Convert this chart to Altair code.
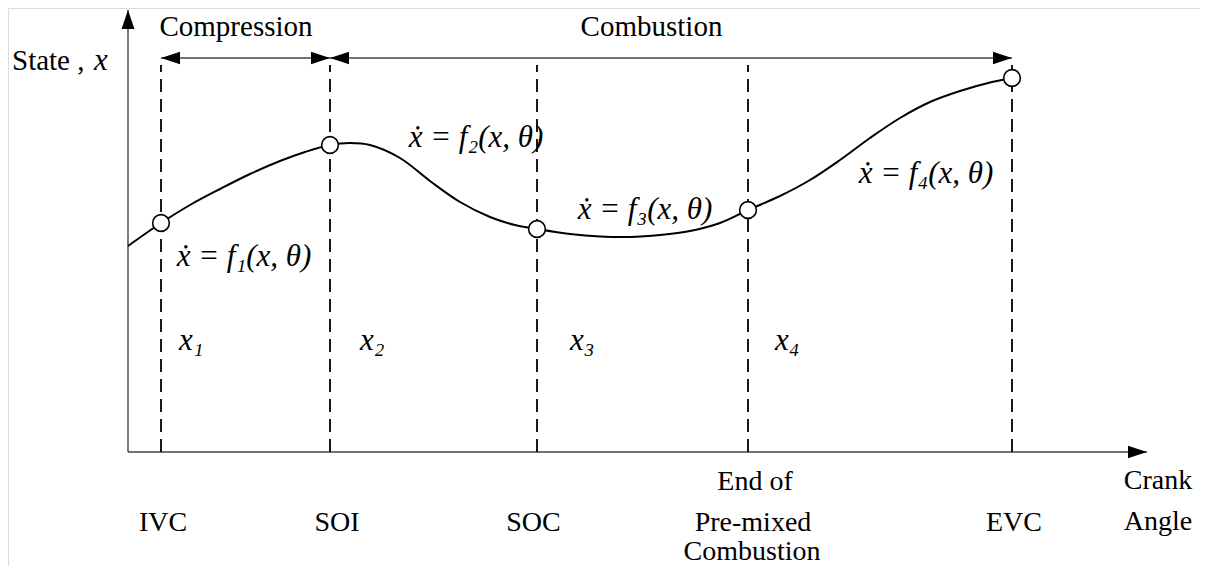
import altair as alt
import pandas as pd

# ---- data (crank-angle units, state units) ----
event_names = ["IVC", "SOI", "SOC", "EOPC", "EVC"]
event_angle = [3.3, 20.2, 40.9, 62.0, 88.4]
event_state = [22.9, 30.7, 22.3, 24.2, 37.4]

curve_angle = [0.0, 3.3, 6.2, 9.2, 12.2, 15.2, 17.7, 20.2, 22.2, 24.2, 27.2, 30.2, 33.2,
               36.2, 38.7, 40.9, 44.2, 47.2, 50.2, 53.2, 56.2, 59.2, 62.0, 65.2, 68.2,
               71.2, 74.2, 77.2, 80.2, 83.2, 86.2, 88.4]
curve_state = [20.6, 22.9, 24.7, 26.3, 27.8, 29.1, 30.0, 30.7, 30.9, 30.7, 29.4, 27.1, 25.0,
               23.5, 22.7, 22.3, 21.8, 21.55, 21.5, 21.7, 22.1, 22.9, 24.2, 25.6, 27.2,
               29.2, 31.4, 33.4, 35.0, 36.1, 36.95, 37.4]

axis_x_end = 101.9
axis_y_end = 44.2
dash_top = 38.7
phase_level = 39.4

phase_names = ["Compression", "Combustion"]
phase_start = [3.3, 20.2]
phase_end = [20.2, 88.4]
phase_label_x = [10.8, 52.35]
phase_label_y = [41.6, 41.6]

bottom_text = ["IVC", "SOI", "SOC", "End of", "Pre-mixed", "Combustion", "EVC", "Crank", "Angle"]
bottom_x = [3.5, 20.9, 40.55, 62.7, 62.5, 62.4, 88.6, 103.0, 103.0]
bottom_y = [-7.9, -7.9, -7.9, -3.8, -7.9, -10.8, -7.9, -3.7, -7.8]

eq_text = ["ẋ = f₁(x, θ)", "ẋ = f₂(x, θ)", "ẋ = f₃(x, θ)", "ẋ = f₄(x, θ)"]
eq_x = [11.6, 34.8, 51.7, 79.8]
eq_y = [18.6, 30.5, 23.3, 26.9]

state_text = ["x₁", "x₂", "x₃", "x₄"]
state_x = [5.1, 23.2, 44.2, 64.7]
state_y = [10.2, 10.2, 10.2, 10.2]

ylabel_text = ["State ,"]
ylabel_x = [-11.6]
ylabel_y = [38.2]
ylabel_var = ["x"]
ylabel_var_x = [-3.4]

# ---- scales ----
XS = alt.Scale(domain=[-12, 107.2], nice=False, zero=False)
YS = alt.Scale(domain=[-11.4, 44.4], nice=False, zero=False)
FONT = "Liberation Serif"
FS = 28
FS_MATH = 31


def X(field="x"):
    return alt.X(f"{field}:Q", scale=XS, axis=None)


def Y(field="y"):
    return alt.Y(f"{field}:Q", scale=YS, axis=None)


# ---- axes lines ----
axes_df = pd.DataFrame({"x": [0, 0], "x2": [axis_x_end, 0], "y": [0, 0], "y2": [0, axis_y_end]})
axes = alt.Chart(axes_df).mark_rule(color="#444", strokeWidth=1.4).encode(
    x=X(), x2="x2:Q", y=Y(), y2="y2:Q")

RIGHT = "M0,0L-2,-0.65L-2,0.65Z"
LEFT = "M0,0L2,-0.65L2,0.65Z"
UP = "M0,0L-0.68,2L0.68,2Z"

right_heads = pd.DataFrame({"x": [axis_x_end] + phase_end, "y": [0, phase_level, phase_level]})
left_heads = pd.DataFrame({"x": phase_start, "y": [phase_level, phase_level]})
up_heads = pd.DataFrame({"x": [0], "y": [axis_y_end]})

rh = alt.Chart(right_heads).mark_point(shape=RIGHT, filled=True, color="black", size=361, opacity=1, strokeWidth=0).encode(x=X(), y=Y())
lh = alt.Chart(left_heads).mark_point(shape=LEFT, filled=True, color="black", size=361, opacity=1, strokeWidth=0).encode(x=X(), y=Y())
uh = alt.Chart(up_heads).mark_point(shape=UP, filled=True, color="black", size=361, opacity=1, strokeWidth=0).encode(x=X(), y=Y())

# ---- phase arrows ----
phase_df = pd.DataFrame({"x": phase_start, "x2": phase_end, "y": [phase_level] * 2})
phase_lines = alt.Chart(phase_df).mark_rule(color="#444", strokeWidth=1.4).encode(x=X(), x2="x2:Q", y=Y())

# ---- dashed event lines ----
dash_df = pd.DataFrame({"x": event_angle, "y": [0] * 5, "y2": [dash_top] * 5})
dashes = alt.Chart(dash_df).mark_rule(color="black", strokeWidth=1.8, strokeDash=[13, 7]).encode(
    x=X(), y=Y(), y2="y2:Q")

# ---- curve ----
curve_df = pd.DataFrame({"x": curve_angle, "y": curve_state})
curve = alt.Chart(curve_df).mark_line(color="black", strokeWidth=2, interpolate="catmull-rom").encode(
    x=X(), y=Y(), order="x:Q")

# ---- event circles ----
ev_df = pd.DataFrame({"x": event_angle, "y": event_state, "name": event_names})
circles = alt.Chart(ev_df).mark_point(shape="circle", filled=True, fill="white", stroke="black",
                                      strokeWidth=1.6, size=280, opacity=1).encode(x=X(), y=Y())

# ---- texts ----
def text_layer(df, align, italic=False, size=FS):
    kw = dict(font=FONT, fontSize=size, align=align, baseline="alphabetic", color="black")
    if italic:
        kw["fontStyle"] = "italic"
    return alt.Chart(df).mark_text(**kw).encode(x=X(), y=Y(), text="t:N")


phase_txt = text_layer(pd.DataFrame({"x": phase_label_x, "y": phase_label_y, "t": phase_names}), "center", size=29)
bottom_txt = text_layer(pd.DataFrame({"x": bottom_x, "y": bottom_y, "t": bottom_text}), "center")
eq_txt = text_layer(pd.DataFrame({"x": eq_x, "y": eq_y, "t": eq_text}), "center", italic=True, size=FS_MATH)
state_txt = text_layer(pd.DataFrame({"x": state_x, "y": state_y, "t": state_text}), "left", italic=True, size=FS_MATH)
ylab_txt = text_layer(pd.DataFrame({"x": ylabel_x, "y": ylabel_y, "t": ylabel_text}), "left", size=29)
ylab_var = text_layer(pd.DataFrame({"x": ylabel_var_x, "y": ylabel_y, "t": ylabel_var}), "left", italic=True, size=FS_MATH)

chart = alt.layer(
    axes, phase_lines, dashes, curve, circles, rh, lh, uh,
    phase_txt, bottom_txt, eq_txt, state_txt, ylab_txt, ylab_var,
).properties(
    width=1192, height=558,
    autosize=alt.AutoSizeParams(type="none"),
    padding=0,
).configure_view(strokeWidth=0, stroke="transparent").configure(background="white")

chart.save("out.html", embed_options={"renderer": "svg", "actions": False})
